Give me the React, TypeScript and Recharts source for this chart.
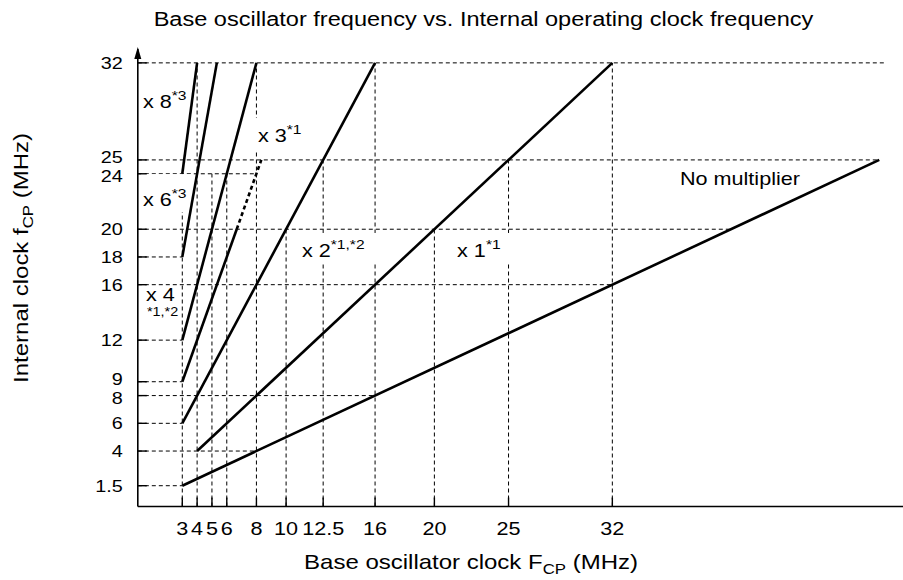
import React from 'react';
import { LineChart, Line, XAxis, YAxis, ReferenceLine, ReferenceDot } from 'recharts';

// ---- data ----
const xTicks = [3, 4, 5, 6, 8, 10, 12.5, 16, 20, 25, 32];
const yTicks = [1.5, 4, 6, 8, 9, 12, 16, 18, 20, 24, 25, 32];

const lineX8 = [{ F: 3, f: 24 }, { F: 4, f: 32 }];
const lineX6 = [{ F: 3, f: 18 }, { F: 5.33, f: 32 }];
const lineX4 = [{ F: 3, f: 12 }, { F: 8, f: 32 }];
const lineX3 = [{ F: 3, f: 9 }, { F: 6.67, f: 20 }];
const lineX3Ext = [{ F: 6.67, f: 20 }, { F: 8.33, f: 25 }];
const lineX2 = [{ F: 3, f: 6 }, { F: 16, f: 32 }];
const lineX1 = [{ F: 4, f: 4 }, { F: 32, f: 32 }];
const lineNoMult = [{ F: 3, f: 1.5 }, { F: 50, f: 25 }];

// horizontal guide levels (f) and the base frequency where each guide stops
const hGuideLevels = [32, 25, 24, 20, 18, 16, 12, 9, 8, 6, 4, 1.5];
const hGuideEnds = [50.5, 50, 8, 40, 3, 32, 3, 3, 16, 3, 8, 3];
// vertical guide frequencies (F) and the internal clock where each guide stops
const vGuideFreqs = [3, 4, 5, 6, 8, 10, 12.5, 16, 20, 25, 32];
const vGuideTops = [24, 32, 24, 24, 32, 20, 25, 32, 20, 25, 32];

const FONT = "'Liberation Sans', Arial, Helvetica, sans-serif";
const SX = 1.2;

const XTick = (p: any) => {
  const { x, y, payload } = p;
  return (
    <g>
      <line x1={x} y1={y} x2={x} y2={y - 9} stroke="#000" strokeWidth={1.4} />
      <text
        transform={`translate(${x},${y + 28.5}) scale(${SX},1)`}
        textAnchor="middle"
        fontFamily={FONT}
        fontSize={18}
        fill="#000"
      >
        {payload.value}
      </text>
    </g>
  );
};

const YTick = (p: any) => {
  const { x, y, payload } = p;
  const v = payload.value;
  // labels one unit apart sit very close; spread them slightly
  const nudge = v === 25 || v === 9 ? -2.5 : v === 24 || v === 8 ? 2.5 : 0;
  return (
    <g>
      <line x1={x} y1={y} x2={x + 9} y2={y} stroke="#000" strokeWidth={1.4} />
      <text
        transform={`translate(${x - 15},${y + 6 + nudge}) scale(1.24,1)`}
        textAnchor="end"
        fontFamily={FONT}
        fontSize={16}
        fill="#000"
      >
        {v}
      </text>
    </g>
  );
};

type AnnProps = {
  cx: number;
  cy: number;
  main: string;
  sup?: string;
  below?: string;
  bg?: [number, number, number, number];
};

const Ann = ({ cx, cy, main, sup, below, bg }: AnnProps) => (
  <g>
    {bg ? <rect x={cx + bg[0]} y={cy + bg[1]} width={bg[2]} height={bg[3]} fill="#fff" /> : null}
    <text transform={`translate(${cx},${cy}) scale(${SX},1)`} fontFamily={FONT} fontSize={18} fill="#000">
      {main}
      {sup ? (
        <tspan fontSize={13} dy={-8}>
          {sup}
        </tspan>
      ) : null}
    </text>
    {below ? (
      <text transform={`translate(${cx + 1},${cy + 15}) scale(${SX},1)`} fontFamily={FONT} fontSize={12} fill="#000">
        {below}
      </text>
    ) : null}
  </g>
);

const lineProps = {
  type: 'linear' as const,
  dataKey: 'f',
  stroke: '#000',
  strokeWidth: 2.6,
  dot: false,
  activeDot: false,
  isAnimationActive: false,
  legendType: 'none' as const,
};

export default function App() {
  return (
    <div style={{ position: 'absolute', left: 0, top: 0, width: 903, height: 580, background: '#fff' }}>
      <LineChart width={903} height={580} margin={{ top: 49, right: 0, bottom: 0, left: 0 }}>
        <XAxis
          type="number"
          dataKey="F"
          domain={[0, 51.6]}
          ticks={xTicks}
          interval={0}
          tickSize={0}
          tickMargin={0}
          tickLine={false}
          tick={(p: any) => <XTick {...p} />}
          axisLine={{ stroke: '#000', strokeWidth: 1.6 }}
          height={73.5}
          allowDataOverflow
        />
        <YAxis
          type="number"
          dataKey="f"
          domain={[0, 33]}
          ticks={yTicks}
          interval={0}
          tickSize={0}
          tickMargin={0}
          tickLine={false}
          tick={(p: any) => <YTick {...p} />}
          axisLine={{ stroke: '#000', strokeWidth: 1.6 }}
          width={137.8}
          allowDataOverflow
        />
        {hGuideLevels.map((lv, i) => (
          <ReferenceLine
            key={'h' + i}
            segment={[{ x: 0, y: lv }, { x: hGuideEnds[i], y: lv }]}
            stroke="#000"
            strokeWidth={1}
            strokeDasharray="4 3"
            zIndex={100}
          />
        ))}
        {vGuideFreqs.map((fr, i) => (
          <ReferenceLine
            key={'v' + i}
            segment={[{ x: fr, y: 0 }, { x: fr, y: vGuideTops[i] }]}
            stroke="#000"
            strokeWidth={1}
            strokeDasharray="4 3"
            zIndex={100}
          />
        ))}

        <ReferenceDot x={0.35} y={28.74} r={0} zIndex={300}
          shape={(p: any) => <Ann cx={p.cx} cy={p.cy} main="x 8" sup="*3" />} />
        <ReferenceDot x={8.1} y={26.29} r={0} zIndex={300}
          shape={(p: any) => <Ann cx={p.cx} cy={p.cy} main="x 3" sup="*1" bg={[-4, -24, 50, 32]} />} />
        <ReferenceDot x={0.35} y={21.67} r={0} zIndex={300}
          shape={(p: any) => <Ann cx={p.cx} cy={p.cy} main="x 6" sup="*3" bg={[-2, -32, 50, 38]} />} />
        <ReferenceDot x={0.55} y={14.85} r={0} zIndex={300}
          shape={(p: any) => <Ann cx={p.cx} cy={p.cy} main="x 4" below="*1,*2" />} />
        <ReferenceDot x={11.07} y={18.0} r={0} zIndex={300}
          shape={(p: any) => <Ann cx={p.cx} cy={p.cy} main="x 2" sup="*1,*2" bg={[-4, -24, 82, 30]} />} />
        <ReferenceDot x={21.53} y={18.0} r={0} zIndex={300}
          shape={(p: any) => <Ann cx={p.cx} cy={p.cy} main="x 1" sup="*1" bg={[-4, -24, 60, 30]} />} />
        <ReferenceDot x={36.56} y={23.19} r={0} zIndex={300}
          shape={(p: any) => <Ann cx={p.cx} cy={p.cy} main="No multiplier" />} />

        <Line {...lineProps} data={lineX8} name="x8" />
        <Line {...lineProps} data={lineX6} name="x6" />
        <Line {...lineProps} data={lineX4} name="x4" />
        <Line {...lineProps} data={lineX3} name="x3" />
        <Line {...lineProps} data={lineX3Ext} name="x3ext" strokeDasharray="4 3" />
        <Line {...lineProps} data={lineX2} name="x2" />
        <Line {...lineProps} data={lineX1} name="x1" />
        <Line {...lineProps} data={lineNoMult} name="none" />

        <ReferenceDot x={0} y={33} r={0} zIndex={600}
          shape={(p: any) => (
            <path d={`M${p.cx},${p.cy - 2} L${p.cx - 3.5},${p.cy + 10} L${p.cx + 3.5},${p.cy + 10} Z`} fill="#000" />
          )} />
      </LineChart>
      <svg
        width={903}
        height={580}
        style={{ position: 'absolute', left: 0, top: 0, pointerEvents: 'none' }}
      >
        <text transform={`translate(483.5,26) scale(1.19,1)`} textAnchor="middle" fontFamily={FONT} fontSize={19.8} fill="#000">
          Base oscillator frequency vs. Internal operating clock frequency
        </text>
        <text transform={`translate(471,569) scale(${SX},1)`} textAnchor="middle" fontFamily={FONT} fontSize={20} fill="#000">
          Base oscillator clock F
          <tspan fontSize={14} dy={5}>CP</tspan>
          <tspan dy={-5}> (MHz)</tspan>
        </text>
        <text transform={`translate(28,258) rotate(-90) scale(${SX},1)`} textAnchor="middle" fontFamily={FONT} fontSize={20} fill="#000">
          Internal clock f
          <tspan fontSize={14} dy={5}>CP</tspan>
          <tspan dy={-5}> (MHz)</tspan>
        </text>
      </svg>
    </div>
  );
}
